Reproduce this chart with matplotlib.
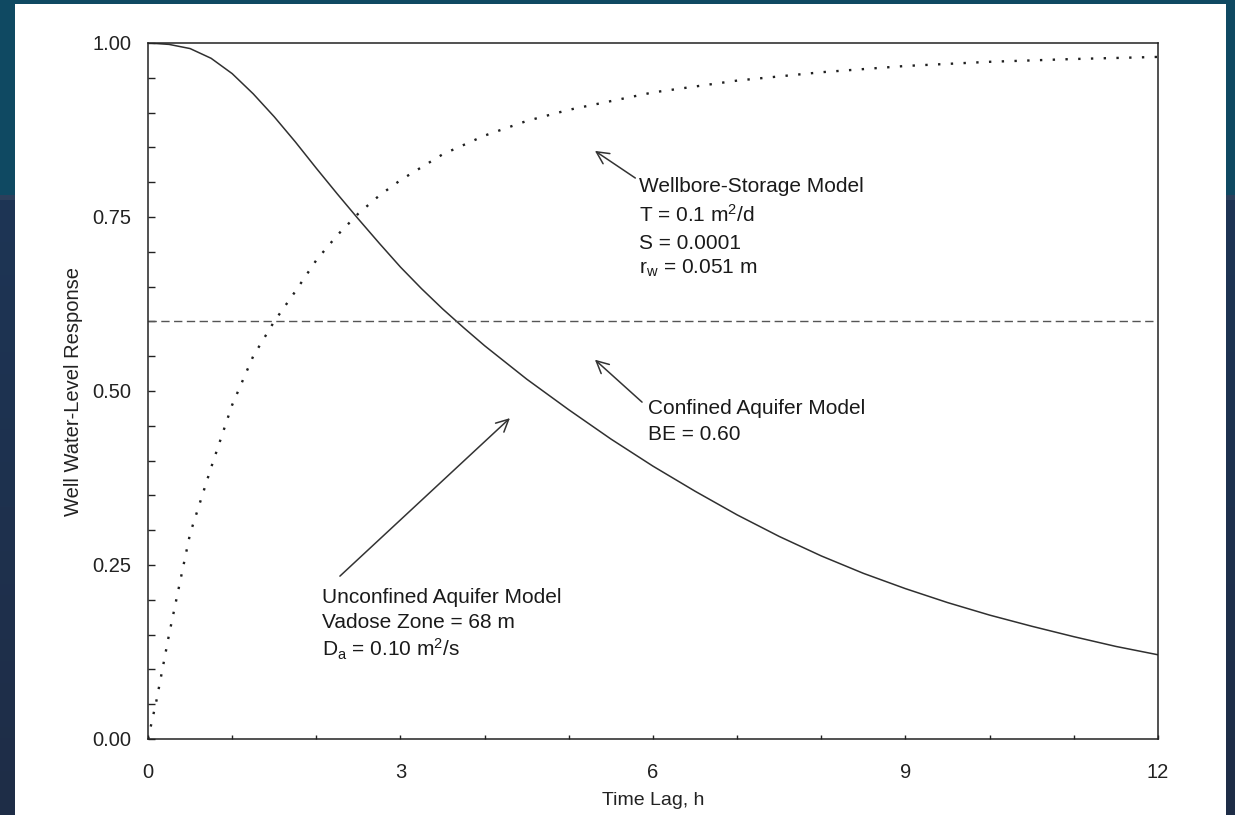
import numpy as np
import matplotlib
matplotlib.use("Agg")
import matplotlib.pyplot as plt
from matplotlib.patches import Rectangle
from matplotlib.ticker import MultipleLocator, FormatStrFormatter

plt.rcParams["font.family"] = ["Liberation Sans", "DejaVu Sans"]
plt.rcParams["mathtext.fontset"] = "custom"
plt.rcParams["mathtext.rm"] = "Liberation Sans"
plt.rcParams["mathtext.it"] = "Liberation Sans:italic"

# Unconfined aquifer model (solid)
t_unconfined = [0, 0.25, 0.5, 0.75, 1.0, 1.25, 1.5, 1.75, 2.0, 2.25, 2.5,
                2.75, 3.0, 3.25, 3.5, 3.75, 4.0, 4.5, 5.0, 5.5, 6.0, 6.5,
                7.0, 7.5, 8.0, 8.5, 9.0, 9.5, 10.0, 10.5, 11.0, 11.5, 12.0]
r_unconfined = [1.0, 0.998, 0.992, 0.978, 0.956, 0.927, 0.894, 0.858, 0.82,
                0.783, 0.747, 0.712, 0.678, 0.647, 0.618, 0.591, 0.565,
                0.517, 0.473, 0.431, 0.392, 0.356, 0.322, 0.291, 0.263,
                0.238, 0.216, 0.196, 0.178, 0.162, 0.147, 0.133, 0.121]

# Wellbore-storage model (dotted)
t_wellbore = [0, 0.1, 0.25, 0.5, 0.75, 1.0, 1.25, 1.5, 1.75, 2.0, 2.25, 2.5,
              2.75, 3.0, 3.5, 4.0, 4.5, 5.0, 6.0, 7.0, 8.0, 9.0, 10.0, 11.0,
              12.0]
r_wellbore = [0.0, 0.055, 0.15, 0.295, 0.39, 0.48, 0.55, 0.60, 0.643, 0.688,
              0.724, 0.755, 0.781, 0.803, 0.84, 0.867, 0.888, 0.904, 0.929,
              0.946, 0.958, 0.967, 0.973, 0.977, 0.980]

# Confined aquifer model (dashed): barometric efficiency
barometric_eff = 0.60

W, H = 1235, 815
fig = plt.figure(figsize=(W / 100, H / 100), dpi=100)

# dark backdrop with white panel
bg = fig.add_axes([0, 0, 1, 1], zorder=-10)
bg.axis("off")
grad = np.ones((H, 1, 3))
top = np.array([0x0f, 0x49, 0x62]) / 255
mid = np.array([0x1d, 0x35, 0x55]) / 255
bot = np.array([0x1f, 0x2d, 0x47]) / 255
split = 197
for i in range(H):
    if i < split:
        grad[i, 0] = top
    else:
        f = (i - split) / (H - split)
        grad[i, 0] = mid * (1 - f) + bot * f
grad[split - 2:split + 3, 0] = np.array([0x2c, 0x3f, 0x5b]) / 255
bg.imshow(grad, aspect="auto", extent=[0, 1, 0, 1])
bg.set_xlim(0, 1)
bg.set_ylim(0, 1)
fig.patches.append(Rectangle((15 / W, 0), (1226 - 15) / W, (H - 4) / H,
                             transform=fig.transFigure, facecolor="white",
                             edgecolor="none", zorder=-5))

ax = fig.add_axes([148 / W, (H - 739) / H, (1158 - 148) / W, (739 - 43) / H])
ax.set_facecolor("white")

ax.plot(t_unconfined, r_unconfined, color="#303030", lw=1.1)
ax.plot(t_wellbore, r_wellbore, color="#202020", lw=1.7,
        linestyle=(0, (1.0, 4.4)))
ax.axhline(barometric_eff, color="#555555", lw=1.0, dashes=(6.0, 3.2))

ax.set_xlim(0, 12)
ax.set_ylim(0, 1)
ax.xaxis.set_major_locator(MultipleLocator(3))
ax.xaxis.set_minor_locator(MultipleLocator(1))
ax.yaxis.set_major_locator(MultipleLocator(0.25))
ax.yaxis.set_minor_locator(MultipleLocator(0.05))
ax.yaxis.set_major_formatter(FormatStrFormatter("%.2f"))
ax.tick_params(axis="y", which="both", direction="in", length=5, width=1.0,
               labelsize=14.5, pad=12, colors="#222222")
ax.tick_params(axis="x", which="both", direction="in", length=3, width=1.0,
               labelsize=14.5, pad=17, colors="#222222")
for s in ax.spines.values():
    s.set_linewidth(1.1)
    s.set_color("#222222")

ax.set_ylabel("Well Water-Level Response", fontsize=14.5, color="#222222")
ax.yaxis.set_label_coords(-0.074, 0.5)
ax.yaxis.label.set_va("center")
ax.set_xlabel("Time Lag, h", fontsize=14, color="#222222")
ax.xaxis.set_label_coords(0.5, -0.089)
ax.xaxis.label.set_va("center")

txt = dict(fontsize=15, color="#1a1a1a", ha="left", va="baseline")
arrow = dict(arrowstyle="->", lw=1.1, color="#333333", mutation_scale=22,
             shrinkA=0, shrinkB=0)

# Wellbore-storage label
ax.annotate("", xy=(5.31, 0.845), xytext=(5.79, 0.806), arrowprops=arrow)
wb_lines = ["Wellbore-Storage Model", "T = 0.1 m$^{2}$/d", "S = 0.0001",
            "r$_{\\mathrm{w}}$ = 0.051 m"]
for line, y in zip(wb_lines, [0.786, 0.743, 0.704, 0.668]):
    ax.text(5.83, y, line, **txt)

# Confined aquifer label
ax.annotate("", xy=(5.31, 0.545), xytext=(5.87, 0.484), arrowprops=arrow)
for line, y in zip(["Confined Aquifer Model", "BE = 0.60"], [0.467, 0.430]):
    ax.text(5.94, y, line, **txt)

# Unconfined aquifer label
ax.annotate("", xy=(4.30, 0.461), xytext=(2.28, 0.234), arrowprops=arrow)
un_lines = ["Unconfined Aquifer Model", "Vadose Zone = 68 m",
            "D$_{\\mathrm{a}}$ = 0.10 m$^{2}$/s"]
for line, y in zip(un_lines, [0.196, 0.159, 0.118]):
    ax.text(2.07, y, line, **txt)

fig.savefig("out.png", dpi=100)
